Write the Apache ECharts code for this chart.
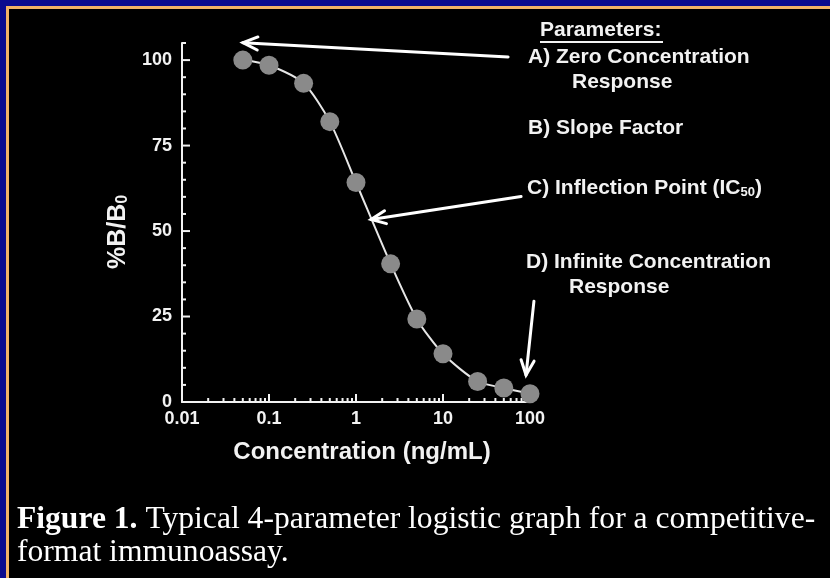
<!DOCTYPE html>
<html>
<head>
<meta charset="utf-8">
<script src="https://cdn.jsdelivr.net/npm/echarts@6/dist/echarts.min.js"></script>
<style>
html,body{margin:0;padding:0;background:#000;}
#chart{width:830px;height:578px;}
</style>
</head>
<body>
<div id="chart"></div>
<script>
// ---- data ----
const concentrations = [0.05, 0.1, 0.25, 0.5, 1, 2.5, 5, 10, 25, 50, 100];
const percentBB0 = [100, 98.5, 93.2, 82.0, 64.2, 40.4, 24.3, 14.1, 6.0, 4.1, 2.4];
const xTickLabels = ['0.01', '0.1', '1', '10', '100'];
const yTickLabels = [0, 25, 50, 75, 100];
const yMinorTicks = [5, 10, 15, 20, 30, 35, 40, 45, 55, 60, 65, 70, 80, 85, 90, 95, 105];
const xDecades = [0.01, 0.1, 1, 10];
const xMinorMultipliers = [2, 3, 4, 5, 6, 7, 8, 9];
const paramLines = [
  'A) Zero Concentration', 'Response', 'B) Slope Factor',
  'C) Inflection Point (IC{sub|50})', 'D) Infinite Concentration', 'Response'
];
// annotation arrows in data space: [from, to]
const arrowA = [[56, 100.9], [0.0502, 105.1]];
const arrowC = [[79, 60.1], [1.49, 53.4]];
const arrowD = [[111, 29.5], [90, 7.9]];

// ---- build ----
const seriesData = concentrations.map((c, i) => [c, percentBB0[i]]);
const xMinorTicks = [];
xDecades.forEach(d => xMinorMultipliers.forEach(m => xMinorTicks.push(+(d * m).toPrecision(3))));
const tickData = [];
xMinorTicks.forEach(v => tickData.push([v, 0, 0]));
yTickLabels.forEach(v => { if (v > 0) tickData.push([0.01, v, 2]); });
yMinorTicks.forEach(v => tickData.push([0.01, v, 1]));

const SANS = '"Liberation Sans", Arial, Helvetica, sans-serif';
const SERIF = '"Liberation Serif", "Times New Roman", serif';
const WHITE = '#f2f2f2';

const chart = echarts.init(document.getElementById('chart'), null, {renderer: 'canvas'});
chart.setOption({
  backgroundColor: '#000',
  animation: false,
  grid: {left: 182, top: 43, right: 300, bottom: 176, containLabel: false},
  xAxis: {
    type: 'log', logBase: 10, min: 0.01, max: 100,
    axisLine: {show: true, onZero: false, lineStyle: {color: WHITE, width: 2}},
    axisTick: {show: true, inside: true, length: 8, lineStyle: {color: WHITE, width: 2}},
    splitLine: {show: false},
    axisLabel: {
      color: WHITE, fontFamily: SANS, fontWeight: 'bold', fontSize: 18, margin: 8,
      formatter: v => {
        const idx = Math.round(Math.log10(v)) + 2;
        return xTickLabels[idx] !== undefined ? xTickLabels[idx] : '';
      }
    }
  },
  yAxis: {
    type: 'value', min: 0, max: 105, interval: 25,
    axisLine: {show: true, lineStyle: {color: WHITE, width: 2}},
    axisTick: {show: false},
    splitLine: {show: false},
    axisLabel: {
      color: WHITE, fontFamily: SANS, fontWeight: 'bold', fontSize: 18, margin: 10,
      formatter: v => (yTickLabels.indexOf(v) >= 0 ? String(v) : '')
    }
  },
  series: [
    {
      type: 'custom', silent: true, clip: false, z: 1,
      data: tickData,
      encode: {x: 0, y: 1},
      renderItem: (params, api) => {
        const kind = api.value(2);
        const p = api.coord([api.value(0), api.value(1)]);
        let shape;
        if (kind === 0) shape = {x1: p[0], y1: p[1], x2: p[0], y2: p[1] - 4};
        else if (kind === 1) shape = {x1: p[0], y1: p[1], x2: p[0] + 4, y2: p[1]};
        else shape = {x1: p[0], y1: p[1], x2: p[0] + 8, y2: p[1]};
        return {type: 'line', shape: shape, style: {stroke: WHITE, lineWidth: 2}};
      }
    },
    {
      type: 'line', data: seriesData, smooth: 0.25, z: 3,
      symbol: 'circle', symbolSize: 19,
      lineStyle: {color: '#e6e6e6', width: 2},
      itemStyle: {color: '#8a8a8a', borderWidth: 0},
      emphasis: {disabled: true}
    }
  ]
});

function px(p) { return chart.convertToPixel({gridIndex: 0}, p); }
function arrowGraphics(a) {
  const s = px(a[0]), t = px(a[1]);
  const ang = Math.atan2(s[1] - t[1], s[0] - t[0]);
  const L = 16, h = 0.42;
  const w1 = [t[0] + L * Math.cos(ang + h), t[1] + L * Math.sin(ang + h)];
  const w2 = [t[0] + L * Math.cos(ang - h), t[1] + L * Math.sin(ang - h)];
  return [
    {type: 'polyline', shape: {points: [s, t]}, style: {stroke: '#fff', lineWidth: 3, lineCap: 'round'}, z: 10},
    {type: 'polyline', shape: {points: [w1, t, w2]}, style: {stroke: '#fff', lineWidth: 3, lineCap: 'round', lineJoin: 'miter', fill: null}, z: 10}
  ];
}

const annStyle = {fill: WHITE, font: 'bold 21px ' + SANS, verticalAlign: 'middle', align: 'left'};
function ann(text, x, y, extra) {
  return {type: 'text', x: x, y: y, z: 10, style: Object.assign({}, annStyle, {text: text}, extra || {})};
}
const paramPos = [[528, 57], [572, 82], [528, 128], [527, 188], [526, 262], [569, 287]];

const graphics = [
  {type: 'rect', shape: {x: 0, y: 0, width: 830, height: 6}, style: {fill: '#0b0b8e'}, z: 20},
  {type: 'rect', shape: {x: 0, y: 0, width: 6, height: 578}, style: {fill: '#0b0b8e'}, z: 20},
  {type: 'rect', shape: {x: 6, y: 6, width: 824, height: 3}, style: {fill: '#f2b266'}, z: 20},
  {type: 'rect', shape: {x: 6, y: 6, width: 3, height: 572}, style: {fill: '#f2b266'}, z: 20},
  ann('Parameters:', 540, 30),
  {type: 'line', shape: {x1: 540, y1: 42, x2: 663, y2: 42}, style: {stroke: WHITE, lineWidth: 2}, z: 10},
  // y axis name
  {type: 'text', x: 118, y: 232, rotation: Math.PI / 2, z: 10,
   style: {text: '%B/B{sub|0}', fill: WHITE, font: 'bold 25px ' + SANS, align: 'center', verticalAlign: 'middle',
     rich: {sub: {fontSize: 16, fontWeight: 'bold', fontFamily: SANS, fill: WHITE, lineHeight: 10, verticalAlign: 'bottom'}}}},
  // x axis name
  {type: 'text', x: 362, y: 452, z: 10,
   style: {text: 'Concentration (ng/mL)', fill: WHITE, font: 'bold 24px ' + SANS, align: 'center', verticalAlign: 'middle'}},
  // caption
  {type: 'text', x: 17, y: 520, z: 10,
   style: {text: '{b|Figure 1.} Typical 4-parameter logistic graph for a competitive-', fill: '#fff',
     font: '31.6px ' + SERIF, align: 'left', verticalAlign: 'middle',
     rich: {b: {fontWeight: 'bold', fontSize: 31.6, fontFamily: SERIF, fill: '#fff'}}}},
  {type: 'text', x: 17, y: 553, z: 10,
   style: {text: 'format immunoassay.', fill: '#fff', font: '31.6px ' + SERIF, align: 'left', verticalAlign: 'middle'}}
];
paramLines.forEach((t, i) => {
  const extra = t.indexOf('{sub|') >= 0 ? {rich: {sub: {fontSize: 13, fontWeight: 'bold', fontFamily: SANS, fill: WHITE, lineHeight: 10, verticalAlign: 'bottom'}}} : {};
  graphics.push(ann(t, paramPos[i][0], paramPos[i][1], extra));
});
[arrowA, arrowC, arrowD].forEach(a => arrowGraphics(a).forEach(g => graphics.push(g)));

chart.setOption({graphic: graphics});
</script>
</body>
</html>
